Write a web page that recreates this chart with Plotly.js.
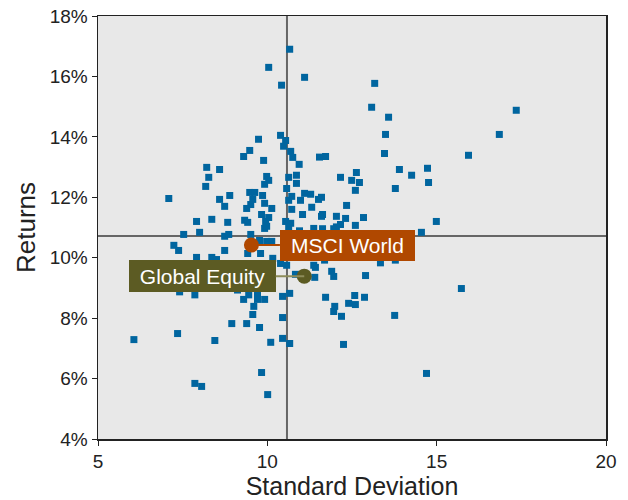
<!DOCTYPE html>
<html>
<head>
<meta charset="utf-8">
<script src="https://cdn.plot.ly/plotly-3.0.1.min.js"></script>
<style>html,body{margin:0;padding:0;background:#fff;}#chart{width:628px;height:500px;}</style>
</head>
<body>
<div id="chart"></div>
<script>
// Fund universe: standard deviation (x) and returns in % (y)
var fundSd = [
10.66,10.04,10.42,11.10,13.17,13.08,13.58,13.49,10.39,9.74,10.54,10.48,9.48,10.69,9.30,9.89,10.75,11.54,11.72,13.46,
15.94,17.35,16.85,15.73,10.94,13.90,14.73,12.63,14.26,10.63,10.86,12.16,10.86,12.49,12.72,14.76,10.57,13.78,12.60,11.10,
11.28,10.72,11.60,11.51,10.63,10.98,12.34,11.31,10.72,11.04,11.63,11.60,12.04,12.84,12.31,10.54,14.99,10.69,12.16,12.60,
12.04,10.63,11.37,11.63,11.96,10.95,14.55,13.34,13.78,11.69,10.57,11.37,11.42,10.83,11.40,11.90,11.96,12.90,10.66,10.45,
11.72,12.58,12.87,11.99,11.96,12.40,12.60,12.19,13.76,10.45,10.45,10.66,12.25,14.70,7.41,7.86,9.12,9.45,9.71,9.71,
9.92,9.30,9.60,9.57,8.95,9.39,9.77,7.35,6.06,8.45,10.10,9.83,7.86,8.06,10.01,8.21,8.59,8.27,9.98,10.04,
9.92,8.18,9.48,9.63,8.89,9.86,7.09,8.59,9.57,9.51,9.92,8.74,9.39,10.13,9.83,10.04,8.36,7.91,8.83,9.33,
9.42,9.95,9.92,9.98,7.53,8.00,8.74,8.86,9.51,9.77,9.98,10.13,7.24,7.38,8.74,9.42,9.80,7.91,8.36,8.50,
10.16,10.39
];
var fundRet = [
16.90,16.30,15.71,15.97,15.77,14.98,14.65,14.08,14.05,13.92,13.88,13.69,13.55,13.52,13.35,13.22,13.32,13.33,13.35,13.45,
13.39,14.88,14.08,8.98,13.09,12.92,12.96,12.82,12.73,12.66,12.73,12.66,12.46,12.56,12.49,12.49,12.29,12.29,12.23,12.13,
12.10,12.03,12.00,11.93,11.90,11.90,11.73,11.67,11.60,11.43,11.43,11.37,11.37,11.33,11.30,11.20,11.20,11.14,11.10,11.07,
11.02,11.00,10.97,10.96,10.96,10.89,10.84,9.83,9.92,9.92,9.75,9.75,9.68,9.45,9.35,9.55,9.38,9.41,8.82,8.72,
8.69,8.75,8.69,8.39,8.22,8.49,8.45,8.06,8.09,8.02,7.33,7.16,7.13,6.17,8.87,8.77,8.93,8.77,8.77,8.62,
8.62,8.62,8.39,8.12,7.82,7.82,7.69,7.49,7.29,7.26,7.20,6.20,5.84,5.74,5.47,12.99,12.92,12.66,12.69,12.56,
12.43,12.36,12.16,12.16,12.06,12.06,11.96,11.93,11.93,11.76,11.80,11.70,11.63,11.63,11.43,11.33,11.27,11.20,11.17,11.24,
11.17,11.20,10.97,11.04,10.77,10.84,10.71,10.77,10.77,10.57,10.54,10.54,10.41,10.24,10.24,10.14,10.14,10.01,10.01,9.94,
9.98,9.81
];

// Highlighted benchmarks
var benchNames = ["MSCI World", "Global Equity"];
var benchSd = [9.53, 11.09];
var benchRet = [10.42, 9.39];
var benchColors = ["#B04800", "#5C5B23"];
var benchLineColors = ["#B04800", "#8D8C5A"];

// Average crosshair
var avgSd = 10.58;
var avgRet = 10.72;

// Axis ticks
var xTicks = [5, 10, 15, 20];
var yTicks = [4, 6, 8, 10, 12, 14, 16, 18];

var FONT = '"Liberation Sans", Arial, sans-serif';

var traces = [
  {
    type: 'scatter', mode: 'markers', x: fundSd, y: fundRet,
    marker: {symbol: 'square', size: 7, color: '#00659F', line: {width: 0}},
    hoverinfo: 'skip', showlegend: false
  }
];
for (var i = 0; i < benchNames.length; i++) {
  traces.push({
    type: 'scatter', mode: 'markers', x: [benchSd[i]], y: [benchRet[i]],
    marker: {symbol: 'circle', size: 15, color: benchColors[i], line: {width: 0}},
    name: benchNames[i], showlegend: false, hoverinfo: 'skip'
  });
}

var labelOffsets = [[96, 0], [-102, 0]];
var labelSizes = [[133, 29], [145, 30]];
var annotations = benchNames.map(function (n, i) {
  return {
    x: benchSd[i], y: benchRet[i], xref: 'x', yref: 'y',
    text: n, showarrow: true, arrowhead: 0, arrowwidth: 2,
    arrowcolor: benchLineColors[i],
    ax: labelOffsets[i][0], ay: labelOffsets[i][1],
    bgcolor: benchColors[i], borderpad: 1, borderwidth: 0,
    width: labelSizes[i][0], height: labelSizes[i][1],
    font: {family: FONT, size: 21, color: '#ffffff'}
  };
});

var layout = {
  width: 628, height: 500,
  margin: {l: 98, r: 22, t: 16, b: 61, pad: 0},
  paper_bgcolor: '#ffffff', plot_bgcolor: '#E8E8E8',
  font: {family: FONT, color: '#222222'},
  showlegend: false,
  xaxis: {
    range: [5, 20], tickvals: xTicks, ticktext: xTicks.map(String),
    showgrid: false, zeroline: false,
    showline: true, linecolor: '#222222', linewidth: 1.5, mirror: true,
    ticks: 'outside', ticklen: 5, tickcolor: '#222222', tickwidth: 1,
    tickfont: {family: FONT, size: 19, color: '#222222'},
    title: {text: 'Standard Deviation', font: {family: FONT, size: 25, color: '#222222'}, standoff: 7}
  },
  yaxis: {
    range: [4, 18], tickvals: yTicks, ticktext: yTicks.map(function (v) { return v + '%'; }),
    showgrid: false, zeroline: false,
    showline: true, linecolor: '#222222', linewidth: 1.5, mirror: true,
    ticks: 'outside', ticklen: 5, tickcolor: '#222222', tickwidth: 1,
    tickfont: {family: FONT, size: 19, color: '#222222'},
    title: {text: 'Returns', font: {family: FONT, size: 26, color: '#222222'}, standoff: 6}
  },
  shapes: [
    {type: 'line', xref: 'x', yref: 'paper', x0: avgSd, x1: avgSd, y0: 0, y1: 1,
     line: {color: '#666666', width: 2}, layer: 'below'},
    {type: 'line', xref: 'paper', yref: 'y', x0: 0, x1: 1, y0: avgRet, y1: avgRet,
     line: {color: '#666666', width: 2}, layer: 'below'}
  ],
  annotations: annotations
};

Plotly.newPlot('chart', traces, layout, {displayModeBar: false, staticPlot: true});
</script>
</body>
</html>
